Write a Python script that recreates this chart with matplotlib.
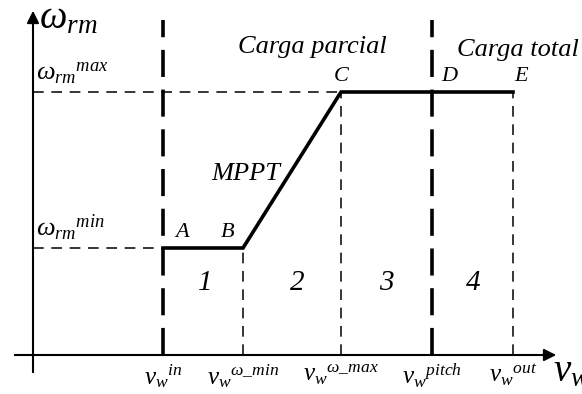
import matplotlib
matplotlib.use('Agg')
import matplotlib.pyplot as plt

plt.rcParams['mathtext.fontset'] = 'custom'
plt.rcParams['mathtext.rm'] = 'Liberation Serif'
plt.rcParams['mathtext.it'] = 'Liberation Serif:italic'
plt.rcParams['font.family'] = ['Liberation Serif']

# wind speed break points and rotor speed limits (origin at the axes crossing)
v_in, v_wmin, v_wmax, v_pitch, v_out = 130, 210, 308, 399, 480
w_min, w_max = 107, 263

speed_ticks = [v_in, v_wmin, v_wmax, v_pitch, v_out]
speed_labels = [r'$v_w{}^{in}$', r'$v_w{}^{\omega\_min}$', r'$v_w{}^{\omega\_max}$',
                r'$v_w{}^{pitch}$', r'$v_w{}^{out}$']
point_names = ['A', 'B', 'C', 'D', 'E']
point_x = [v_in, v_wmin, v_wmax, v_pitch, v_out]
point_y = [w_min, w_min, w_max, w_max, w_max]
zones = ['1', '2', '3', '4']

fig = plt.figure(figsize=(5.82, 3.94), dpi=100)
ax = fig.add_axes([0, 0, 1, 1])
ax.set_xlim(-33, 549)
ax.set_ylim(-39, 355)
ax.axis('off')

# axes with arrows
ax.annotate('', xy=(526, 0), xytext=(-21, 0),
            arrowprops=dict(arrowstyle='-|>', color='black', lw=1.5, mutation_scale=18))
ax.annotate('', xy=(0, 347), xytext=(0, -20),
            arrowprops=dict(arrowstyle='-|>', color='black', lw=1.5, mutation_scale=18))

# thick dashed limits
for x in [v_in, v_pitch]:
    ax.plot([x, x], [0, 335], color='black', lw=2.6, dashes=(7.5, 3.5))

# thin dashed guides
thin = dict(color='black', lw=1.1, dashes=(7, 5))
ax.plot([v_wmin, v_wmin], [0, w_min], **thin)
ax.plot([v_wmax, v_wmax], [0, w_max], **thin)
ax.plot([v_out, v_out], [0, w_max], **thin)
ax.plot([0, v_in], [w_min, w_min], **thin)
ax.plot([0, v_wmax], [w_max, w_max], **thin)

# operating curve
ax.plot(point_x, point_y, color='black', lw=2.6, solid_joinstyle='miter')

# point labels
offs = [(19, 0), (-15, 0), (0, 0), (17, 0), (8, 0)]
for name, x, y, (dx, dy) in zip(point_names, point_x, point_y, offs):
    ax.text(x + dx, y + 6, name, fontsize=16, style='italic', ha='center', va='bottom')

ax.text(213, 181, 'MPPT', fontsize=19, style='italic', ha='center', va='center')
ax.text(279, 308, 'Carga parcial', fontsize=19, style='italic', ha='center', va='center')
ax.text(485, 305, 'Carga total', fontsize=19, style='italic', ha='center', va='center')

# zone numbers
zone_x = [(v_in + v_wmin) / 2 + 2, (v_wmin + v_wmax) / 2 + 5,
          (v_wmax + v_pitch) / 2, (v_pitch + v_out) / 2 + 1]
for z, x in zip(zones, zone_x):
    ax.text(x, 72, z, fontsize=21, style='italic', ha='center', va='center')

# tick labels
for x, lab in zip(speed_ticks, speed_labels):
    ax.text(x, -7, lab, fontsize=18, ha='center', va='top')

ax.text(3, w_max + 6, r'$\omega_{rm}{}^{max}$', fontsize=19, ha='left', va='bottom')
ax.text(3, w_min + 5, r'$\omega_{rm}{}^{min}$', fontsize=19, ha='left', va='bottom')

# axis names
ax.text(6, 336, r'$\omega_{rm}$', fontsize=28, ha='left', va='center')
ax.text(520, -17, r'$v_w$', fontsize=28, ha='left', va='center')

fig.savefig('out.png', dpi=100)
